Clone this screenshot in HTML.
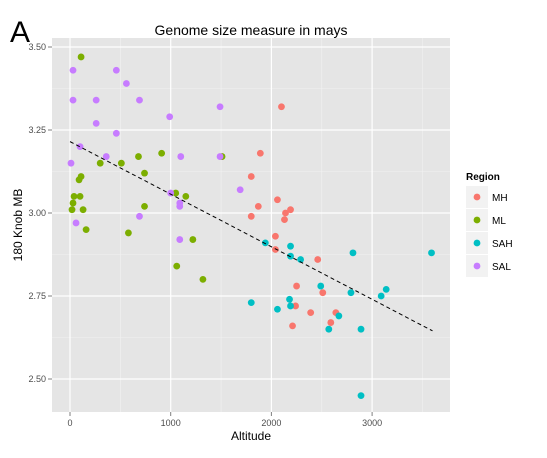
<!DOCTYPE html>
<html><head><meta charset="utf-8"><style>
body{margin:0;background:#fff;font-family:"Liberation Sans",sans-serif;}
svg text{font-family:"Liberation Sans",sans-serif;}
</style></head><body>
<svg id="chart" width="547" height="453">
<text x="10" y="42" font-size="30">A</text>
<text x="251" y="35" font-size="14" text-anchor="middle">Genome size measure in mays</text>
<rect x="52" y="38" width="398" height="374" fill="#E5E5E5"/>
<g id="grid"></g><g id="axes"></g><g id="pts"></g><g id="fit"></g>
<text x="251" y="440" font-size="12" text-anchor="middle">Altitude</text>
<text x="22" y="225" font-size="12" text-anchor="middle" transform="rotate(-90 22 225)">180 Knob MB</text>
<g id="legend">
<text x="466" y="180" font-size="10" font-weight="bold">Region</text>
</g>
</svg>
<script>
const regions=["MH","ML","SAH","SAL"];
const colors=["#F8766D","#7CAE00","#00BFC4","#C77CFF"];
const xTicks=[0,1000,2000,3000];
const yTicks=[2.50,2.75,3.00,3.25,3.50];
const yTickLabels=["2.50","2.75","3.00","3.25","3.50"];
const mhX=[1890,1800,2060,1870,1800,2140,2190,2130,2040,2040,2460,2250,2510,2240,2390,2640,2590,2210,2100];
const mhY=[3.18,3.11,3.04,3.02,2.99,3.00,3.01,2.98,2.93,2.89,2.86,2.78,2.76,2.72,2.70,2.70,2.67,2.66,3.32];
const mlX=[110,680,910,1510,510,300,740,110,90,40,100,30,1050,1150,20,130,740,160,580,1220,1060,1320];
const mlY=[3.47,3.17,3.18,3.17,3.15,3.15,3.12,3.11,3.10,3.05,3.05,3.03,3.06,3.05,3.01,3.01,3.02,2.95,2.94,2.92,2.84,2.80];
const sahX=[1940,2190,2190,2290,2810,3590,2490,2790,3140,3090,1800,2180,2060,2190,2670,2570,2890,2890];
const sahY=[2.91,2.90,2.87,2.86,2.88,2.88,2.78,2.76,2.77,2.75,2.73,2.74,2.71,2.72,2.69,2.65,2.65,2.45];
const salX=[30,30,260,260,460,560,690,460,990,1490,100,360,10,1100,1490,1690,1000,1090,1090,690,60,1090];
const salY=[3.43,3.34,3.34,3.27,3.43,3.39,3.34,3.24,3.29,3.32,3.20,3.17,3.15,3.17,3.17,3.07,3.06,3.03,3.02,2.99,2.97,2.92];
const fitX=[0,3600];
const fitY=[3.215,2.645];
const NS="http://www.w3.org/2000/svg";
const sx=v=>70+v*0.1007;
const sy=v=>47+(3.5-v)*332;
function mk(t,a,p){const e=document.createElementNS(NS,t);for(const k in a)e.setAttribute(k,a[k]);p.appendChild(e);return e;}
const grid=document.getElementById('grid'),axes=document.getElementById('axes');
for(let i=0;i<yTicks.length-1;i++){const v=(yTicks[i]+yTicks[i+1])/2;const l=mk('line',{x1:52,x2:450,y1:sy(v),y2:sy(v),stroke:'#F2F2F2','stroke-width':0.6},grid);}
for(let i=0;i<xTicks.length;i++){const v=xTicks[i]+500;const l=mk('line',{x1:sx(v),x2:sx(v),y1:38,y2:412,stroke:'#F2F2F2','stroke-width':0.6},grid);}
const mlow=sx(-500);if(mlow>52){}
yTicks.forEach((v,i)=>{const l=mk('line',{x1:52,x2:450,y1:sy(v),y2:sy(v),stroke:'#fff','stroke-width':1.2},grid);
mk('line',{x1:48,x2:52,y1:sy(v),y2:sy(v),stroke:'#7f7f7f'},axes);
const t=mk('text',{x:46,y:sy(v)+3,'font-size':9,'text-anchor':'end',fill:'#4d4d4d'},axes);t.textContent=yTickLabels[i];});
xTicks.forEach(v=>{const l=mk('line',{x1:sx(v),x2:sx(v),y1:38,y2:412,stroke:'#fff','stroke-width':1.2},grid);
mk('line',{x1:sx(v),x2:sx(v),y1:412,y2:416,stroke:'#7f7f7f'},axes);
const t=mk('text',{x:sx(v),y:426,'font-size':9,'text-anchor':'middle',fill:'#4d4d4d'},axes);t.textContent=v;});
const pts=document.getElementById('pts');
const series=[[mhX,mhY],[mlX,mlY],[sahX,sahY],[salX,salY]];
series.forEach((s,k)=>{s[0].forEach((x,i)=>{const c=mk('circle',{cx:sx(x),cy:sy(s[1][i]),r:3.4,fill:colors[k]},pts);});});
const f=mk('line',{x1:sx(fitX[0]),y1:sy(fitY[0]),x2:sx(fitX[1]),y2:sy(fitY[1]),stroke:'#000','stroke-width':1,'stroke-dasharray':'4,3'},document.getElementById('fit'));

const lg=document.getElementById('legend');
regions.forEach((r,k)=>{const y=186+k*23;
const b=mk('rect',{x:466,y:y,width:22,height:22,fill:'#F2F2F2'},lg);
const c=mk('circle',{cx:477,cy:y+11,r:3.4,fill:colors[k]},lg);
const t=mk('text',{x:492,y:y+15,'font-size':10},lg);t.textContent=r;});
</script>
</body></html>
